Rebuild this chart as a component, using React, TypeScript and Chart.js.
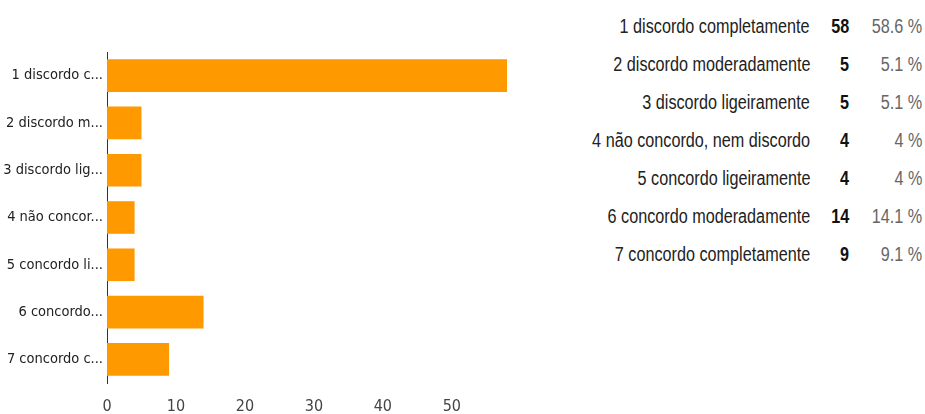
import React, { useEffect, useRef } from "react";
import { Chart, registerables } from "chart.js";

Chart.register(...registerables);

const shortLabels = [
  "1 discordo c...",
  "2 discordo m...",
  "3 discordo lig...",
  "4 não concor...",
  "5 concordo li...",
  "6 concordo...",
  "7 concordo c...",
];
const fullLabels = [
  "1 discordo completamente",
  "2 discordo moderadamente",
  "3 discordo ligeiramente",
  "4 não concordo, nem discordo",
  "5 concordo ligeiramente",
  "6 concordo moderadamente",
  "7 concordo completamente",
];
const counts = [58, 5, 5, 4, 4, 14, 9];
const percents = ["58.6 %", "5.1 %", "5.1 %", "4 %", "4 %", "14.1 %", "9.1 %"];
const xTicks = [0, 10, 20, 30, 40, 50];

const FONT = "'Liberation Sans Narrow', 'Arial Narrow', 'DejaVu Sans Condensed', 'Liberation Sans', sans-serif";
const HFONT = "'Liberation Sans', Arial, sans-serif";

export default function App() {
  const ref = useRef<HTMLCanvasElement | null>(null);
  useEffect(() => {
    if (!ref.current) return;
    const chart = new Chart(ref.current, {
      type: "bar",
      data: {
        labels: shortLabels,
        datasets: [
          {
            data: counts,
            backgroundColor: "#ff9900",
            borderWidth: 0,
            barPercentage: 0.69,
            categoryPercentage: 1,
          },
        ],
      },
      options: {
        indexAxis: "y",
        animation: false,
        responsive: false,
        maintainAspectRatio: false,
        layout: { padding: { top: 52, right: 53, left: 0, bottom: 0 } },
        plugins: { legend: { display: false }, tooltip: { enabled: false } },
        scales: {
          x: {
            min: 0,
            max: 58,
            afterBuildTicks: (scale: any) => {
              scale.ticks = xTicks.map((v) => ({ value: v }));
            },
            afterFit: (scale: any) => {
              scale.height = 31;
            },
            grid: { display: false, drawTicks: false },
            border: { display: false },
            ticks: {
              padding: 14,
              color: "#444",
              font: { family: FONT, size: 16 },
              maxRotation: 0,
            },
          },
          y: {
            afterFit: (scale: any) => {
              scale.width = 107;
            },
            grid: { display: false, drawTicks: false },
            border: { display: true, color: "#333", width: 1 },
            ticks: {
              padding: 4,
              color: "#222",
              font: { family: FONT, size: 14.5 },
            },
          },
        },
      },
    });
    return () => chart.destroy();
  }, []);

  const rowStyle = (i: number): React.CSSProperties => ({
    position: "absolute",
    top: 14 + i * 38,
    left: 560,
    width: 365,
    height: 24,
    fontFamily: HFONT,
    fontSize: 20,
    lineHeight: "24px",
  });
  const span = (right: number, color: string, bold = false): React.CSSProperties => ({
    position: "absolute",
    right,
    color,
    fontWeight: bold ? "bold" : "normal",
    whiteSpace: "nowrap",
    transform: "scaleX(0.81)",
    transformOrigin: "right center",
  });

  return (
    <div style={{ position: "absolute", left: 0, top: 0, width: 925, height: 414, background: "#fff", overflow: "hidden" }}>
      <canvas ref={ref} width={560} height={414} style={{ position: "absolute", left: 0, top: 0, width: 560, height: 414 }} />
      {fullLabels.map((lab, i) => (
        <div key={i} style={rowStyle(i)}>
          <span style={span(115, "#222")}>{lab}</span>
          <span style={span(76, "#111", true)}>{counts[i]}</span>
          <span style={span(3, "#666")}>{percents[i]}</span>
        </div>
      ))}
    </div>
  );
}
